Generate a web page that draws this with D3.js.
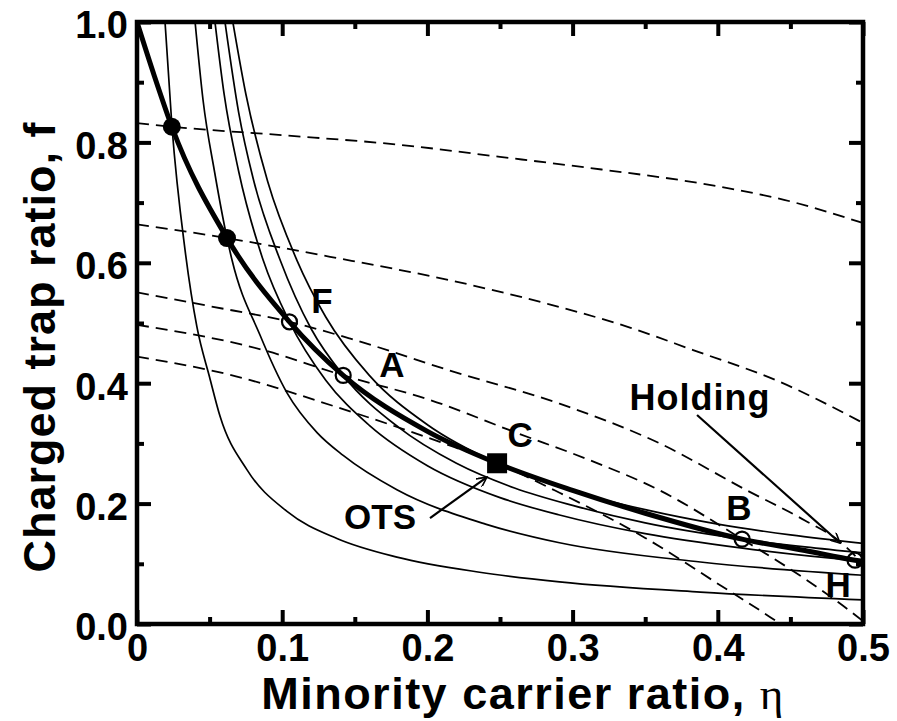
<!DOCTYPE html>
<html lang="en">
<head>
<meta charset="UTF-8">
<script src="https://d3js.org/d3.v7.min.js"></script>
<style>
    body {
        margin: 0;
        background: #fff;
        font-family: "Liberation Sans", Arial, sans-serif;
    }
    .lbl {
        font-weight: bold;
        fill: #000;
    }
</style>
</head>
<body>
<div id="chart"></div>
<script>
// thick curve (locus of operating points)
const mainCurve = [[0, 1.0], [0.012, 0.91], [0.024, 0.826], [0.062, 0.641], [0.105, 0.502], [0.142, 0.413],
    [0.2, 0.32], [0.248, 0.267], [0.3, 0.222], [0.35, 0.184], [0.4167, 0.141], [0.46, 0.122], [0.4945, 0.106], [0.5, 0.104]];

// thin solid curves
const thin1 = [[0.0193, 1.0], [0.0241, 0.826], [0.0331, 0.621], [0.0413, 0.493], [0.05, 0.41], [0.0572, 0.345], [0.0758, 0.256],
    [0.1033, 0.187], [0.1377, 0.142], [0.179, 0.111], [0.236, 0.086], [0.291, 0.070], [0.388, 0.053], [0.5, 0.040]];
const thin2 = [[0.040, 1.0], [0.0455, 0.870], [0.0535, 0.75], [0.062, 0.641], [0.0654, 0.605], [0.0847, 0.48], [0.1033, 0.384],
    [0.124, 0.318], [0.142, 0.28], [0.179, 0.223], [0.24, 0.166], [0.291, 0.135], [0.388, 0.103], [0.5, 0.081]];
const thin3 = [[0.0537, 1.0], [0.06, 0.88], [0.07, 0.752], [0.0868, 0.605], [0.105, 0.502], [0.13, 0.405], [0.16, 0.33],
    [0.2, 0.263], [0.25, 0.21], [0.291, 0.181], [0.35, 0.15], [0.417, 0.126], [0.4945, 0.106], [0.5, 0.105]];
const thin4 = [[0.0606, 1.0], [0.07, 0.85], [0.08, 0.74], [0.0985, 0.605], [0.12, 0.49], [0.142, 0.413], [0.18, 0.327],
    [0.22, 0.267], [0.26, 0.226], [0.3, 0.197], [0.35, 0.168], [0.4167, 0.141], [0.46, 0.128], [0.5, 0.118]];
const thin5 = [[0.066, 1.0], [0.075, 0.88], [0.09, 0.735], [0.11, 0.605], [0.13, 0.51], [0.16, 0.413], [0.2, 0.331],
    [0.248, 0.267], [0.3, 0.221], [0.35, 0.19], [0.4, 0.166], [0.45, 0.148], [0.5, 0.134]];

// dashed curves
const dash1 = [[0, 0.832], [0.024, 0.826], [0.1, 0.812], [0.181, 0.796], [0.25, 0.776], [0.32, 0.755], [0.388, 0.732], [0.45, 0.702], [0.5, 0.666]];
const dash2 = [[0, 0.664], [0.062, 0.641], [0.133, 0.610], [0.2155, 0.571], [0.284, 0.531], [0.34, 0.492], [0.383, 0.455], [0.441, 0.404], [0.5, 0.334]];
const dash3 = [[0, 0.551], [0.05, 0.528], [0.105, 0.502], [0.147, 0.474], [0.2155, 0.421], [0.291, 0.366], [0.36, 0.3], [0.42, 0.222],
    [0.46, 0.172], [0.484, 0.137], [0.5, 0.1]];
const dash4 = [[0, 0.497], [0.087, 0.455], [0.142, 0.413], [0.202, 0.372], [0.262, 0.317], [0.312, 0.272], [0.36, 0.222], [0.4167, 0.141],
    [0.46, 0.075], [0.493, 0.018], [0.505, -0.005]];
const dash5 = [[0, 0.444], [0.064, 0.414], [0.138, 0.36], [0.209, 0.302], [0.248, 0.267], [0.291, 0.218], [0.35, 0.143], [0.4, 0.067],
    [0.443, 0.0], [0.45, -0.012]];

// markers
const filledDots = [[0.024, 0.826], [0.062, 0.641]];
const openDots = [[0.105, 0.502], [0.142, 0.413], [0.4167, 0.141], [0.4945, 0.106]];
const squarePts = [[0.248, 0.267]];

// text annotations (data coords)
const noteNames = ["F", "A", "C", "B", "H", "Holding", "OTS"];
const noteX = [0.1274, 0.1756, 0.2638, 0.4146, 0.4828, 0.3877, 0.1674];
const noteY = [0.5166, 0.4103, 0.294, 0.1728, 0.0449, 0.3555, 0.1578];

// arrows [from, to]
const arrows = [[[0.3857, 0.3472], [0.4842, 0.1346]], [[0.2018, 0.176], [0.241, 0.244]]];

const xTicks = [0, 0.1, 0.2, 0.3, 0.4, 0.5];
const xMinor = [0.05, 0.15, 0.25, 0.35, 0.45];
const yTicks = [0, 0.2, 0.4, 0.6, 0.8, 1.0];
const yMinor = [0.1, 0.3, 0.5, 0.7, 0.9];

const width = 897, height = 721;
const margin = { top: 22, right: 34, bottom: 97, left: 137 };
const iw = width - margin.left - margin.right, ih = height - margin.top - margin.bottom;

const x = d3.scaleLinear().domain([0, 0.5]).range([margin.left, width - margin.right]);
const y = d3.scaleLinear().domain([0, 1]).range([height - margin.bottom, margin.top]);

const svg = d3.select("#chart").append("svg")
    .attr("width", width)
    .attr("height", height);

const defs = svg.append("defs");
defs.append("clipPath").attr("id", "clip")
    .append("rect").attr("x", margin.left).attr("y", margin.top).attr("width", iw).attr("height", ih);
defs.append("marker").attr("id", "head")
    .attr("viewBox", "0 0 10 10").attr("refX", 10).attr("refY", 5)
    .attr("markerWidth", 14).attr("markerHeight", 10).attr("markerUnits", "userSpaceOnUse")
    .attr("orient", "auto")
    .append("path").attr("d", "M0,0 L10,5 L0,10").attr("fill", "none").attr("stroke", "#000").attr("stroke-width", 1.6);

const line = d3.line().x(d => x(d[0])).y(d => y(d[1])).curve(d3.curveMonotoneX);
const plot = svg.append("g").attr("clip-path", "url(#clip)");

// dashed
[dash1, dash2, dash3, dash4, dash5].forEach(d => {
    plot.append("path").datum(d).attr("d", line)
        .attr("fill", "none").attr("stroke", "#000").attr("stroke-width", 1.8)
        .attr("stroke-dasharray", "12,7");
});

// thin solid
[thin1, thin2, thin3, thin4, thin5].forEach(d => {
    plot.append("path").datum(d).attr("d", line)
        .attr("fill", "none").attr("stroke", "#000").attr("stroke-width", 1.7);
});

// thick
plot.append("path").datum(mainCurve).attr("d", line)
    .attr("fill", "none").attr("stroke", "#000").attr("stroke-width", 5);

// markers
svg.selectAll(".fdot").data(filledDots).enter().append("circle")
    .attr("cx", d => x(d[0])).attr("cy", d => y(d[1])).attr("r", 9).attr("fill", "#000");
svg.selectAll(".odot").data(openDots).enter().append("circle")
    .attr("cx", d => x(d[0])).attr("cy", d => y(d[1])).attr("r", 7.5)
    .attr("fill", "none").attr("stroke", "#000").attr("stroke-width", 2.2);
svg.selectAll(".sq").data(squarePts).enter().append("rect")
    .attr("x", d => x(d[0]) - 10).attr("y", d => y(d[1]) - 10)
    .attr("width", 20).attr("height", 20).attr("fill", "#000");

// arrows
arrows.forEach(a => {
    svg.append("line")
        .attr("x1", x(a[0][0])).attr("y1", y(a[0][1]))
        .attr("x2", x(a[1][0])).attr("y2", y(a[1][1]))
        .attr("stroke", "#000").attr("stroke-width", 2.2)
        .attr("marker-end", "url(#head)");
});

// annotations
noteNames.forEach((t, i) => {
    svg.append("text").attr("class", "lbl")
        .attr("x", x(noteX[i])).attr("y", y(noteY[i]))
        .attr("text-anchor", "middle")
        .style("font-size", t.length > 3 ? "36px" : "35px")
        .style("letter-spacing", t.length > 3 ? "1px" : "0px")
        .text(t);
});

// axes
const fmtY = d3.format(".1f");
const fmtX = d => d === 0 ? "0" : d3.format(".1f")(d);

function styleAxis(g) {
    g.select(".domain").remove();
    g.selectAll(".tick line").attr("stroke", "#000").attr("stroke-width", 4);
    g.selectAll("text").attr("fill", "#000").style("font-size", "38px").style("font-weight", "bold")
        .style("font-family", "'Liberation Sans', Arial, sans-serif");
}

svg.append("g").attr("transform", `translate(0,${y(0)})`)
    .call(d3.axisBottom(x).tickValues(xTicks).tickFormat(fmtX).tickSize(-14).tickPadding(10))
    .call(styleAxis);
svg.append("g").attr("transform", `translate(0,${y(0)})`)
    .call(d3.axisBottom(x).tickValues(xMinor).tickFormat("").tickSize(-7))
    .call(styleAxis);
svg.append("g").attr("transform", `translate(0,${y(1)})`)
    .call(d3.axisTop(x).tickValues(xTicks).tickFormat("").tickSize(-14))
    .call(styleAxis);
svg.append("g").attr("transform", `translate(0,${y(1)})`)
    .call(d3.axisTop(x).tickValues(xMinor).tickFormat("").tickSize(-7))
    .call(styleAxis);

svg.append("g").attr("transform", `translate(${x(0)},0)`)
    .call(d3.axisLeft(y).tickValues(yTicks).tickFormat(fmtY).tickSize(-14).tickPadding(9))
    .call(styleAxis)
    .selectAll("text").attr("dy", "0.42em");
svg.append("g").attr("transform", `translate(${x(0)},0)`)
    .call(d3.axisLeft(y).tickValues(yMinor).tickFormat("").tickSize(-7))
    .call(styleAxis);
svg.append("g").attr("transform", `translate(${x(0.5)},0)`)
    .call(d3.axisRight(y).tickValues(yTicks).tickFormat("").tickSize(-14))
    .call(styleAxis);
svg.append("g").attr("transform", `translate(${x(0.5)},0)`)
    .call(d3.axisRight(y).tickValues(yMinor).tickFormat("").tickSize(-7))
    .call(styleAxis);

// frame
svg.append("rect")
    .attr("x", margin.left).attr("y", margin.top).attr("width", iw).attr("height", ih)
    .attr("fill", "none").attr("stroke", "#000").attr("stroke-width", 4.5);

// axis titles
const xt = svg.append("text").attr("class", "lbl")
    .attr("x", 523).attr("y", 709).attr("text-anchor", "middle")
    .style("font-size", "45px").style("letter-spacing", "1.5px");
xt.append("tspan").text("Minority carrier ratio, ");
xt.append("tspan").style("font-weight", "normal").style("font-family", "'Liberation Serif', serif").text("η");

svg.append("text").attr("class", "lbl")
    .attr("transform", "translate(55,347) rotate(-90)")
    .attr("text-anchor", "middle")
    .style("font-size", "45px").style("letter-spacing", "1px")
    .text("Charged trap ratio, f");
</script>
</body>
</html>
